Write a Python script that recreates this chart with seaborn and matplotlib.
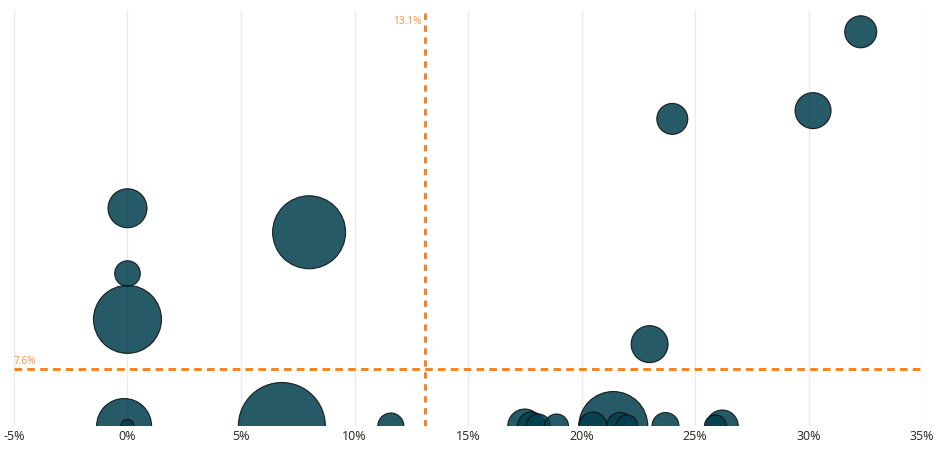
import pandas as pd
import matplotlib
matplotlib.use('Agg')
import matplotlib.pyplot as plt
import seaborn as sns

# Werte (x in %, y in %, Größe ~ Fläche der Blase)
x_pct = [32.3, 30.2, 24.0, 0.0, 8.0, 0.0, 0.0, 23.0,
         -0.15, 0.0, 6.8, 11.6, 17.5, 17.8, 18.1, 18.9,
         21.4, 20.5, 21.7, 22.0, 23.7, 26.2, 25.9]
y_pct = [52.5, 42.0, 40.9, 29.0, 25.8, 20.3, 14.2, 10.9,
         0, 0, 0, 0, 0, 0, 0, 0,
         0, 0, 0, 0, 0, 0, 0]
volume = [256, 324, 240, 380, 1332, 164, 1156, 342,
          756, 42, 1892, 169, 289, 196, 144, 144,
          1190, 196, 182, 121, 182, 256, 121]

x_ref = 13.1
y_ref = 7.6
x_ticks = [-5, 0, 5, 10, 15, 20, 25, 30, 35]

bubble_color = '#033F4E'
ref_color = '#F58220'

df = pd.DataFrame({'x': x_pct, 'y': y_pct, 'volume': volume})
df = df.sort_values('volume', ascending=False)

sns.set_style('white')
plt.rcParams['font.family'] = ['Open Sans', 'DejaVu Sans']

fig = plt.figure(figsize=(9.37, 4.49), dpi=100)
ax = fig.add_axes([14 / 937, 23 / 449, 908 / 937, 416 / 449])

vmax = max(volume)
k = (2 * 0.72) ** 2  # Pixel-Radius^2 -> Punkte^2
sns.scatterplot(data=df, x='x', y='y', size='volume',
                sizes=(0, k * vmax), size_norm=(0, vmax),
                color=bubble_color, alpha=0.86, edgecolor='#0A0A0A',
                linewidth=0.8, legend=False, ax=ax, zorder=3)

# Referenzlinien
ax.axvline(x_ref, color=ref_color, lw=2.1, linestyle=(0, (2.2, 1.9)), zorder=4)
ax.axhline(y_ref, color=ref_color, lw=2.1, linestyle=(0, (2.6, 1.8)), zorder=4)
ax.text(x_ref - 0.12, 53.85, f'{x_ref}%', color=ref_color, fontsize=7.3,
        ha='right', va='center', alpha=0.85)
ax.text(-5, y_ref + 0.3, f'{y_ref}%', color=ref_color, fontsize=7.3,
        ha='left', va='bottom', alpha=0.85)

ax.set_xlim(-5, 35)
ax.set_ylim(0, 55.4)
ax.set_xticks(x_ticks)
ax.set_xticklabels([f'{t}%' for t in x_ticks])
ax.set_yticks([])
ax.grid(axis='x', color='#EAEAEA', lw=1)
ax.set_axisbelow(True)
ax.tick_params(axis='x', length=0, pad=3, labelsize=9, labelcolor='#252423')
ax.set_xlabel('')
ax.set_ylabel('')
for s in ax.spines.values():
    s.set_visible(False)

fig.savefig('out.png', dpi=100)
